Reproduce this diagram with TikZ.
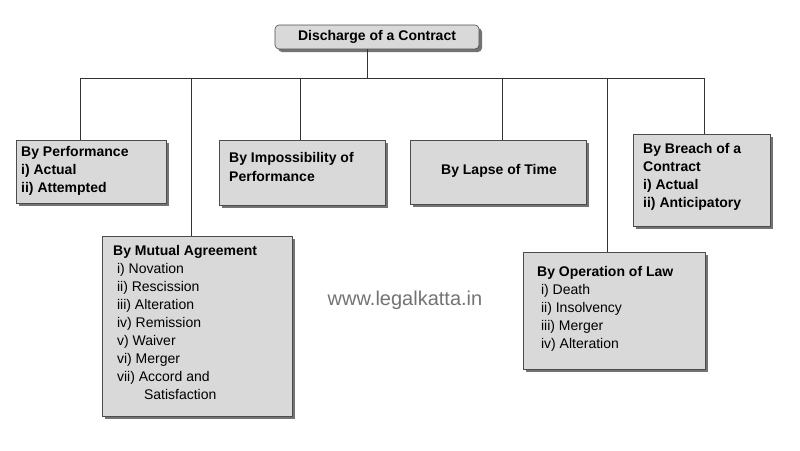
\documentclass[tikz,border=0pt]{standalone}
\usepackage{fontspec}
\setmainfont{Liberation Sans}
\begin{document}
\begin{tikzpicture}[x=1pt,y=-1pt,
 bx/.style={draw=black!70,fill=black!15,line width=0.6pt},
 sh/.style={fill=black!55},
 t/.style={anchor=north west,inner sep=0pt,font=\fontsize{14}{18}\selectfont,align=left},
 ln/.style={draw=black!80,line width=0.6pt}]
\useasboundingbox (0,0) rectangle (800,450);
% shadows
\fill[sh,rounded corners=4pt] (278,28) rectangle (482,52);
\foreach \a/\b/\c/\d in {16/140/166/203,102/236/292/416,219/140/385/205,410/140/586/204,523/252/705/369,633/134/770/226}
 \fill[sh] (\a+3,\b+3) rectangle (\c+3,\d+3);
% connectors
\coordinate (h1) at (80,78); \coordinate (h2) at (704,78);
\node[bx,rounded corners=4pt,minimum width=204pt,minimum height=24pt,inner sep=0pt,font=\fontsize{14}{16}\selectfont\bfseries] (top) at (377,37) {Discharge of a Contract};
\draw[ln] (367,49) -- (367,78);
\draw[ln] (h1) -- (h2);
\draw[ln] (80,78) -- (80,140);
\draw[ln] (191,78) -- (191,236);
\draw[ln] (300,78) -- (300,140);
\draw[ln] (502,78) -- (502,140);
\draw[ln] (607,78) -- (607,252);
\draw[ln] (704,78) -- (704,134);
% boxes
\draw[bx] (16,140) rectangle (166,203);
\begin{scope}
\clip (16,140) rectangle (166,202);
\node[t,font=\fontsize{14}{18}\selectfont\bfseries] (b1) at (21,146) {By Performance\\i) Actual\\ii) Attempted};
\end{scope}
\draw[bx] (102,236) rectangle (292,416);
\node[t] (b2) at (113,245) {\textbf{By Mutual Agreement}\\
\ i) Novation\\ \ ii) Rescission\\ \ iii) Alteration\\ \ iv) Remission\\ \ v) Waiver\\ \ vi) Merger\\ \ vii) Accord and\\ \hspace{2.2em}Satisfaction};
\draw[bx] (219,140) rectangle (385,205);
\node[t,font=\fontsize{14}{19}\selectfont\bfseries] (b3) at (229,152) {By Impossibility of\\Performance};
\draw[bx] (410,140) rectangle (586,204);
\node[font=\fontsize{14}{16}\selectfont\bfseries] (b4) at (499,171) {By Lapse of Time};
\draw[bx] (523,252) rectangle (705,369);
\node[t] (b5) at (537,266) {\textbf{By Operation of Law}\\
\ i) Death\\ \ ii) Insolvency\\ \ iii) Merger\\ \ iv) Alteration};
\draw[bx] (633,134) rectangle (770,226);
\node[t,font=\fontsize{14}{18}\selectfont\bfseries] (b6) at (643,143) {By Breach of a\\Contract\\i) Actual\\ii) Anticipatory};
\node[text=black!55,font=\fontsize{20}{22}\selectfont] (wm) at (405,300) {www.legalkatta.in};
\end{tikzpicture}
\end{document}
